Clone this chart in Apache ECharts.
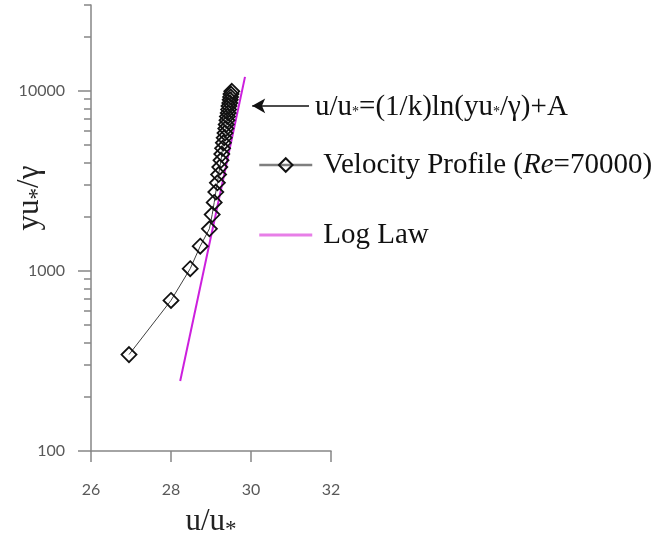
<!DOCTYPE html>
<html>
<head>
<meta charset="utf-8">
<script src="https://cdn.jsdelivr.net/npm/echarts@6/dist/echarts.min.js"></script>
<style>
  html, body { margin: 0; padding: 0; background: #fff; }
  #chart { width: 657px; height: 540px; }
</style>
</head>
<body>
<div id="chart"></div>
<script>
// velocity profile (Re=70000)
var profileX = [26.95, 28.00, 28.48, 28.73, 28.96, 29.03, 29.08, 29.12, 29.16, 29.19,
  29.22, 29.25, 29.27, 29.29, 29.31, 29.33, 29.35, 29.37, 29.38, 29.40,
  29.41, 29.43, 29.44, 29.45, 29.47, 29.48, 29.49, 29.50, 29.52];
var profileY = [343, 686, 1029, 1372, 1715, 2058, 2401, 2744, 3087, 3430,
  3773, 4116, 4459, 4802, 5145, 5488, 5831, 6174, 6517, 6860,
  7203, 7546, 7889, 8232, 8575, 8918, 9261, 9604, 9947];

// log law line, two ends
var logLawX = [28.23, 29.85];
var logLawY = [245, 11970];

var yMajorTicks = [100, 1000, 10000];
var yMinorTicks = [200, 300, 400, 500, 600, 700, 800, 900,
  2000, 3000, 4000, 5000, 6000, 7000, 8000, 9000, 20000, 30000];

// arrow of the annotation: from text to the line
var arrowX = [31.45, 30.03];
var arrowY = 8260;

var serif = '"Liberation Serif", "Times New Roman", serif';
var axisColor = '#868686';
var labelColor = '#595959';

var profileData = profileX.map(function (x, i) { return [x, profileY[i]]; });
var logLawData = logLawX.map(function (x, i) { return [x, logLawY[i]]; });

var chart = echarts.init(document.getElementById('chart'));

chart.setOption({
  animation: false,
  grid: { left: 91, right: 326, top: 5, bottom: 89, outerBoundsMode: 'none', containLabel: false },
  xAxis: {
    type: 'value',
    min: 26,
    max: 32,
    interval: 2,
    name: 'u/u{s|*}',
    nameLocation: 'middle',
    nameGap: 51,
    nameTextStyle: {
      fontFamily: serif, fontSize: 31, color: '#222',
      rich: { s: { fontFamily: serif, fontSize: 23, color: '#222', padding: [16, 0, 0, 0] } }
    },
    axisLine: { lineStyle: { color: axisColor, width: 1.5 } },
    axisTick: { show: true, inside: false, length: 11, lineStyle: { color: axisColor, width: 1.5 } },
    axisLabel: { color: labelColor, fontFamily: 'Lato', fontSize: 16, margin: 31 },
    splitLine: { show: false }
  },
  yAxis: [{
    type: 'log',
    logBase: 10,
    min: 100,
    max: 30000,
    axisLine: { show: true, lineStyle: { color: axisColor, width: 1.5 } },
    axisTick: { show: true, length: 13, customValues: yMajorTicks, lineStyle: { color: axisColor, width: 1.5 } },
    axisLabel: {
      customValues: yMajorTicks, color: labelColor, fontFamily: 'Lato', fontSize: 16, margin: 26,
      formatter: function (v) { return String(Math.round(v)); }
    },
    splitLine: { show: false }
  }, {
    type: 'log',
    logBase: 10,
    min: 100,
    max: 30000,
    position: 'left',
    axisLine: { show: false },
    axisTick: { show: true, length: 7, customValues: yMinorTicks, lineStyle: { color: axisColor, width: 1.5 } },
    axisLabel: { show: false },
    splitLine: { show: false }
  }],
  legend: {
    orient: 'vertical',
    left: 253,
    top: 145,
    itemWidth: 53,
    itemHeight: 17,
    itemGap: 40,
    selectedMode: false,
    textStyle: {
      fontFamily: serif, fontSize: 29, color: '#111', lineHeight: 30, padding: [0, 0, 0, 6],
      rich: { i: { fontFamily: serif, fontSize: 29, fontStyle: 'italic', color: '#111' } }
    },
    formatter: function (name) {
      return name === 'Velocity Profile' ? 'Velocity Profile ({i|Re}=70000)' : name;
    },
    data: [
      { name: 'Velocity Profile', lineStyle: { color: '#7f7f7f', width: 2.5 } },
      {
        name: 'Log Law',
        icon: 'path://M0,0 L53,0 L53,3 L0,3 Z',
        itemStyle: { color: '#e77ee7' }
      }
    ]
  },
  series: [{
    name: 'Velocity Profile',
    type: 'line',
    data: profileData,
    symbol: 'diamond',
    symbolSize: 15,
    showAllSymbol: true,
    lineStyle: { color: '#404040', width: 1 },
    itemStyle: { color: 'transparent', borderColor: '#111', borderWidth: 1.8 },
    z: 3
  }, {
    name: 'Log Law',
    type: 'line',
    data: logLawData,
    symbol: 'none',
    lineStyle: { color: '#cc1fdd', width: 2 },
    itemStyle: { color: '#cc1fdd' },
    z: 2,
    markLine: {
      silent: true,
      symbol: ['none', 'arrow'],
      symbolSize: [11, 13],
      label: { show: false },
      lineStyle: { color: '#111', width: 1.5, type: 'solid' },
      data: [[{ coord: [arrowX[0], arrowY] }, { coord: [arrowX[1], arrowY] }]]
    }
  }],
  graphic: [{
    type: 'text',
    x: 315,
    y: 107,
    style: {
      text: 'u/u{s|*}=(1/k)ln(yu{s|*}/γ)+A',
      font: '29px ' + serif,
      fill: '#111',
      verticalAlign: 'middle',
      rich: { s: { fontFamily: serif, fontSize: 14, fill: '#111', padding: [10, 0, 0, 0] } }
    }
  }, {
    type: 'text',
    x: 30,
    y: 198,
    rotation: Math.PI / 2,
    style: {
      text: 'yu{s|*}/γ',
      font: '31px ' + serif,
      fill: '#222',
      align: 'center',
      verticalAlign: 'middle',
      rich: { s: { fontFamily: serif, fontSize: 23, fill: '#222', padding: [16, 0, 0, 0] } }
    }
  }]
});
</script>
</body>
</html>
